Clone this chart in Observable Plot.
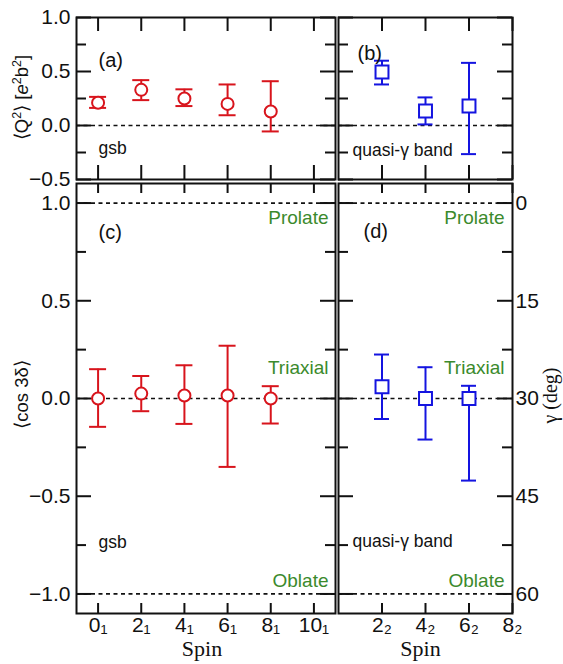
<!DOCTYPE html>
<html><head><meta charset="utf-8">
<script src="https://cdn.jsdelivr.net/npm/d3@7"></script>
<script src="https://cdn.jsdelivr.net/npm/@observablehq/plot@0.6"></script>
<style>
body{margin:0;background:#fff}
#chart{position:relative;width:563px;height:664px;font-family:"Liberation Sans",Arial,sans-serif}
#chart svg{position:absolute;left:0;top:0}
</style></head><body><div id="chart"></div>
<script>
// ---- data ----
const spinGsb = [0, 2, 4, 6, 8];
const q2Gsb   = [0.21, 0.33, 0.25, 0.20, 0.13];
const q2GsbLo = [0.163, 0.235, 0.18, 0.095, -0.055];
const q2GsbHi = [0.265, 0.42, 0.335, 0.38, 0.41];

const spinGam = [2, 4, 6];
const q2Gam   = [0.495, 0.135, 0.18];
const q2GamLo = [0.38, 0.01, -0.265];
const q2GamHi = [0.60, 0.26, 0.58];

const cosGsb   = [0.0, 0.025, 0.015, 0.015, 0.0];
const cosGsbLo = [-0.145, -0.065, -0.13, -0.35, -0.128];
const cosGsbHi = [0.15, 0.115, 0.17, 0.27, 0.063];

const cosGam   = [0.06, 0.0, 0.0];
const cosGamLo = [-0.105, -0.21, -0.42];
const cosGamHi = [0.225, 0.16, 0.065];

const xTicksGsb = [0, 2, 4, 6, 8, 10];
const xTicksGam = [2, 4, 6, 8];
const q2Major = [-0.5, 0, 0.5, 1.0];
const q2Minor = [-0.25, 0.25, 0.75];
const cosMajor = [-1, -0.5, 0, 0.5, 1];
const cosMinor = [-0.75, -0.25, 0.25, 0.75];
const gammaTicks = [0, 15, 30, 45, 60];
const shapeNames = ["Prolate", "Triaxial", "Oblate"];
const shapeVals = [1, 0, -1];

// ---- styling ----
const W = 563, H = 664;
const red = "#d8141c", blue = "#1414e0", green = "#3b8a2c";
const sans = "Liberation Sans, Arial, sans-serif";
const serif = "Liberation Serif, Times New Roman, serif";
const tickFont = 21;

const table = (sp, v, lo, hi) => sp.map((s, i) => ({spin: s, v: v[i], lo: lo[i], hi: hi[i]}));

function ticks(xVals, xLen, yMaj, yMin, fw, fh) {
  const o = {stroke: "#111", strokeWidth: 2};
  return [
    Plot.ruleY(yMaj, {...o, insetRight: fw - 15}),
    Plot.ruleY(yMaj, {...o, insetLeft: fw - 15}),
    Plot.ruleY(yMin, {...o, insetRight: fw - 10}),
    Plot.ruleY(yMin, {...o, insetLeft: fw - 10}),
    Plot.ruleX(xVals, {...o, insetTop: fh - xLen}),
    Plot.ruleX(xVals, {...o, insetBottom: fh - xLen})
  ];
}

const yLabels = (vals, fmt, side) => Plot.text(vals, {
  y: d => d, text: fmt, frameAnchor: side, dx: side === "left" ? -6 : 4,
  textAnchor: side === "left" ? "end" : "start", fontSize: tickFont, fontFamily: sans, fill: "#111"
});
const xLabels = (vals, sub) => Plot.text(vals, {
  x: d => d, text: d => d + sub, frameAnchor: "bottom", lineAnchor: "top", dy: 4,
  fontSize: tickFont, fontFamily: sans, fill: "#111"
});

function errs(data, color, cap) {
  const o = {stroke: color, strokeWidth: 2};
  return [
    Plot.ruleX(data, {...o, x: "spin", y1: "lo", y2: "hi"}),
    Plot.ruleY(data, {...o, y: "hi", x1: "spin", x2: "spin", insetLeft: -cap / 2, insetRight: -cap / 2}),
    Plot.ruleY(data, {...o, y: "lo", x1: "spin", x2: "spin", insetLeft: -cap / 2, insetRight: -cap / 2})
  ];
}

function panel(box, xDomain, yDomain, marks) {
  return Plot.plot({
    width: W, height: H,
    marginLeft: box.l, marginRight: W - box.r, marginTop: box.t, marginBottom: H - box.b,
    x: {domain: xDomain, axis: null},
    y: {domain: yDomain, axis: null},
    style: {background: "transparent", overflow: "visible", fontFamily: sans},
    marks
  });
}

const boxA = {l: 76, r: 335, t: 17, b: 179};
const boxB = {l: 338, r: 512, t: 17, b: 179};
const boxC = {l: 76, r: 335, t: 183, b: 613};
const boxD = {l: 338, r: 512, t: 183, b: 613};
const fw = b => b.r - b.l, fh = b => b.b - b.t;
const dash = {stroke: "#111", strokeWidth: 1.7, strokeDasharray: "4,3.5"};

const dA = table(spinGsb, q2Gsb, q2GsbLo, q2GsbHi);
const dB = table(spinGam, q2Gam, q2GamLo, q2GamHi);
const dC = table(spinGsb, cosGsb, cosGsbLo, cosGsbHi);
const dD = table(spinGam, cosGam, cosGamLo, cosGamHi);

const q2Label = "⟨Q2⟩ [e2b2]";
const txt = {fill: "#111", fontFamily: sans};
const fmt1 = d3.format(".1f");

const pA = panel(boxA, [-1, 11], [-0.5, 1.0], [
  Plot.ruleY([0], dash),
  ...ticks(xTicksGsb, 14, q2Major, q2Minor, fw(boxA), fh(boxA)),
  yLabels(q2Major, fmt1, "left"),
  ...errs(dA, red, 17),
  Plot.dot(dA, {x: "spin", y: "v", r: 6, stroke: red, strokeWidth: 2, fill: "white"}),
  Plot.text(["(a)"], {...txt, frameAnchor: "top-left", dx: 22, dy: 35, textAnchor: "start", fontSize: 20}),
  Plot.text(["gsb"], {...txt, frameAnchor: "bottom-left", dx: 22, dy: -26, textAnchor: "start", fontSize: 17.5}),
  Plot.text([q2Label], {...txt, frameAnchor: "left", dx: -54, dy: -1, rotate: -90, textAnchor: "middle", fontSize: 18.5}),
  Plot.frame({stroke: "#111", strokeWidth: 2})
]);

const pB = panel(boxB, [0, 8], [-0.5, 1.0], [
  Plot.ruleY([0], dash),
  ...ticks(xTicksGam, 14, q2Major, q2Minor, fw(boxB), fh(boxB)),
  ...errs(dB, blue, 15),
  Plot.dot(dB, {x: "spin", y: "v", symbol: "square", r: 7.3, stroke: blue, strokeWidth: 2, fill: "white"}),
  Plot.text(["(b)"], {...txt, frameAnchor: "top-left", dx: 19, dy: 28, textAnchor: "start", fontSize: 20}),
  Plot.text(["quasi-γ band"], {...txt, frameAnchor: "bottom-left", dx: 14, dy: -24, textAnchor: "start", fontSize: 17.5}),
  Plot.frame({stroke: "#111", strokeWidth: 2})
]);

const shapeDy = [15, -31, -13];
function shapeTexts(dx) {
  return shapeNames.map((n, i) => Plot.text([n], {y: [shapeVals[i]], frameAnchor: "right", dx, dy: shapeDy[i], textAnchor: "end", fontSize: 19, fontFamily: sans, fill: green}));
}

const pC = panel(boxC, [-1, 11], [-1.1, 1.1], [
  Plot.ruleY(shapeVals, dash),
  ...ticks(xTicksGsb, 10, cosMajor, cosMinor, fw(boxC), fh(boxC)),
  yLabels(cosMajor, fmt1, "left"),
  xLabels(xTicksGsb, "₁"),
  ...errs(dC, red, 17),
  Plot.dot(dC, {x: "spin", y: "v", r: 6, stroke: red, strokeWidth: 2, fill: "white"}),
  ...shapeTexts(-7),
  Plot.text(["(c)"], {...txt, frameAnchor: "top-left", dx: 22, dy: 41, textAnchor: "start", fontSize: 20}),
  Plot.text(["gsb"], {...txt, frameAnchor: "bottom-left", dx: 22, dy: -66, textAnchor: "start", fontSize: 17.5}),
  Plot.text(["⟨cos 3δ⟩"], {...txt, frameAnchor: "left", dx: -54, dy: -4, rotate: -90, textAnchor: "middle", fontSize: 18.5}),
  Plot.text(["Spin"], {...txt, fontFamily: serif, frameAnchor: "bottom", dx: -4, dy: 42, textAnchor: "middle", fontSize: 22}),
  Plot.frame({stroke: "#111", strokeWidth: 2})
]);

const gammaPos = gammaTicks.map(g => 1 - g / 30);
const pD = panel(boxD, [0, 8], [-1.1, 1.1], [
  Plot.ruleY(shapeVals, dash),
  ...ticks(xTicksGam, 10, cosMajor, cosMinor, fw(boxD), fh(boxD)),
  xLabels(xTicksGam, "₂"),
  Plot.text(gammaTicks, {y: (g, i) => gammaPos[i], text: g => String(g), frameAnchor: "right", dx: 3, textAnchor: "start", fontSize: tickFont, fontFamily: sans, fill: "#111"}),
  ...errs(dD, blue, 15),
  Plot.dot(dD, {x: "spin", y: "v", symbol: "square", r: 7.3, stroke: blue, strokeWidth: 2, fill: "white"}),
  ...shapeTexts(-8),
  Plot.text(["(d)"], {...txt, frameAnchor: "top-left", dx: 25, dy: 40, textAnchor: "start", fontSize: 20}),
  Plot.text(["quasi-γ band"], {...txt, frameAnchor: "bottom-left", dx: 14, dy: -67, textAnchor: "start", fontSize: 17.5}),
  Plot.text(["Spin"], {...txt, fontFamily: serif, frameAnchor: "bottom", dx: -5, dy: 42, textAnchor: "middle", fontSize: 22}),
  Plot.text(["γ (deg)"], {...txt, fontFamily: serif, frameAnchor: "right", dx: 38, dy: -3, rotate: -90, textAnchor: "middle", fontSize: 20}),
  Plot.frame({stroke: "#111", strokeWidth: 2})
]);

const chart = document.getElementById("chart");
[pA, pB, pC, pD].forEach(p => chart.appendChild(p));

// superscripts and italic e in the Q² axis title
const sup = s => `<tspan font-size="12.5" dy="-7">${s}</tspan>`;
pA.querySelectorAll("text").forEach(t => {
  if (t.textContent === q2Label) {
    t.innerHTML = `⟨Q${sup(2)}<tspan dy="7">⟩ [</tspan><tspan font-style="italic">e</tspan>${sup(2)}<tspan dy="7">b</tspan>${sup(2)}<tspan dy="7">]</tspan>`;
  }
});
</script></body></html>
